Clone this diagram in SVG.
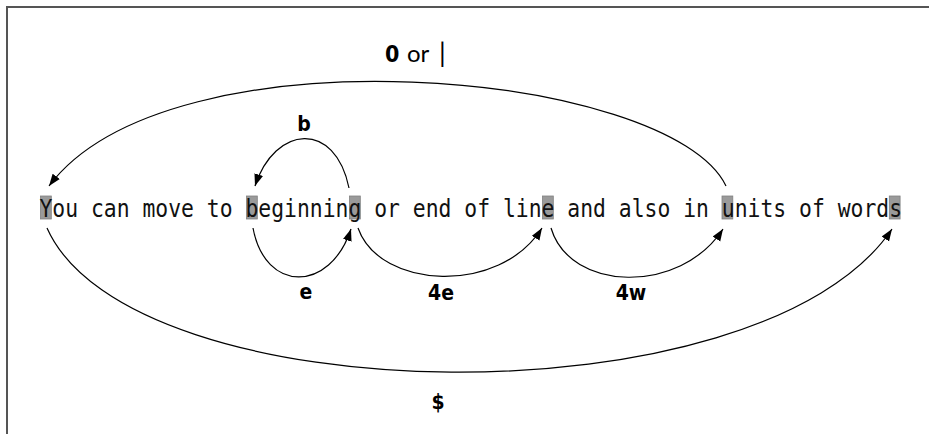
<svg xmlns="http://www.w3.org/2000/svg" width="929" height="434" viewBox="0 0 929 434">
<style>
.frame{fill:none;stroke:#555;stroke-width:2}
.hl{fill:#9a9a9a;stroke:#808080;stroke-width:0.8}
.line{font-family:"DejaVu Sans Mono",monospace;font-size:25px;fill:#111}
.lbl{font-family:"DejaVu Sans Condensed","DejaVu Sans",sans-serif;font-stretch:condensed;font-size:21px;font-weight:bold;fill:#000;text-anchor:middle}
.or{font-family:Lato,"Open Sans",sans-serif;font-size:24px;fill:#000}
.c{fill:none;stroke:#000;stroke-width:1.2}
</style>
<defs>
<marker id="ah" markerUnits="userSpaceOnUse" markerWidth="14" markerHeight="10" refX="12" refY="4.5" orient="auto">
<path d="M0,0 L12,4.5 L0,9 z" fill="#000"/>
</marker>
</defs>
<rect width="929" height="434" fill="#fff"/>
<path class="frame" d="M7,434 L7,7 L929,7"/>
<g id="nodes">
<g id="n-Y"><rect class="hl" x="40.5" y="196" width="10.8" height="23"/></g>
<g id="n-b"><rect class="hl" x="246.5" y="196" width="10.8" height="23"/></g>
<g id="n-g"><rect class="hl" x="349.5" y="196" width="10.8" height="23"/></g>
<g id="n-e"><rect class="hl" x="542.5" y="196" width="10.8" height="23"/></g>
<g id="n-u"><rect class="hl" x="722" y="196" width="10.8" height="23"/></g>
<g id="n-s"><rect class="hl" x="889.3" y="196" width="10.8" height="23"/></g>
<text class="line" x="39.5" y="216.5" textLength="862.6" lengthAdjust="spacingAndGlyphs" xml:space="preserve">You can move to beginning or end of line and also in units of words</text>
</g>
<g id="connectors">
<path class="c" d="M726,186 C670,70 170,25 49,186" marker-end="url(#ah)"/>
<path class="c" d="M349,188 C335,120 275,125 255,186" marker-end="url(#ah)"/>
<path class="c" d="M253,228 C265,293 330,293 351,229" marker-end="url(#ah)"/>
<path class="c" d="M358,228 C380,290 500,295 542,228" marker-end="url(#ah)"/>
<path class="c" d="M551,228 C570,292 680,295 723,229" marker-end="url(#ah)"/>
<path class="c" d="M47,228 C130,415 760,425 892,229" marker-end="url(#ah)"/>
</g>
<g id="labels">
<g id="l-top"><text x="385" y="62" style="font-family:'DejaVu Sans Condensed','DejaVu Sans',sans-serif;font-stretch:condensed;font-size:23px;font-weight:bold">0</text><text class="or" x="407" y="62">or</text><text class="or" x="439" y="62" style="font-size:27px">|</text></g>
<g id="l-b"><text class="lbl" x="304" y="131">b</text></g>
<g id="l-e"><text class="lbl" x="306" y="299">e</text></g>
<g id="l-4e"><text class="lbl" x="441" y="300">4e</text></g>
<g id="l-4w"><text class="lbl" x="631" y="300">4w</text></g>
<g id="l-dollar"><text class="lbl" x="438" y="409">$</text></g>
</g>
</svg>
